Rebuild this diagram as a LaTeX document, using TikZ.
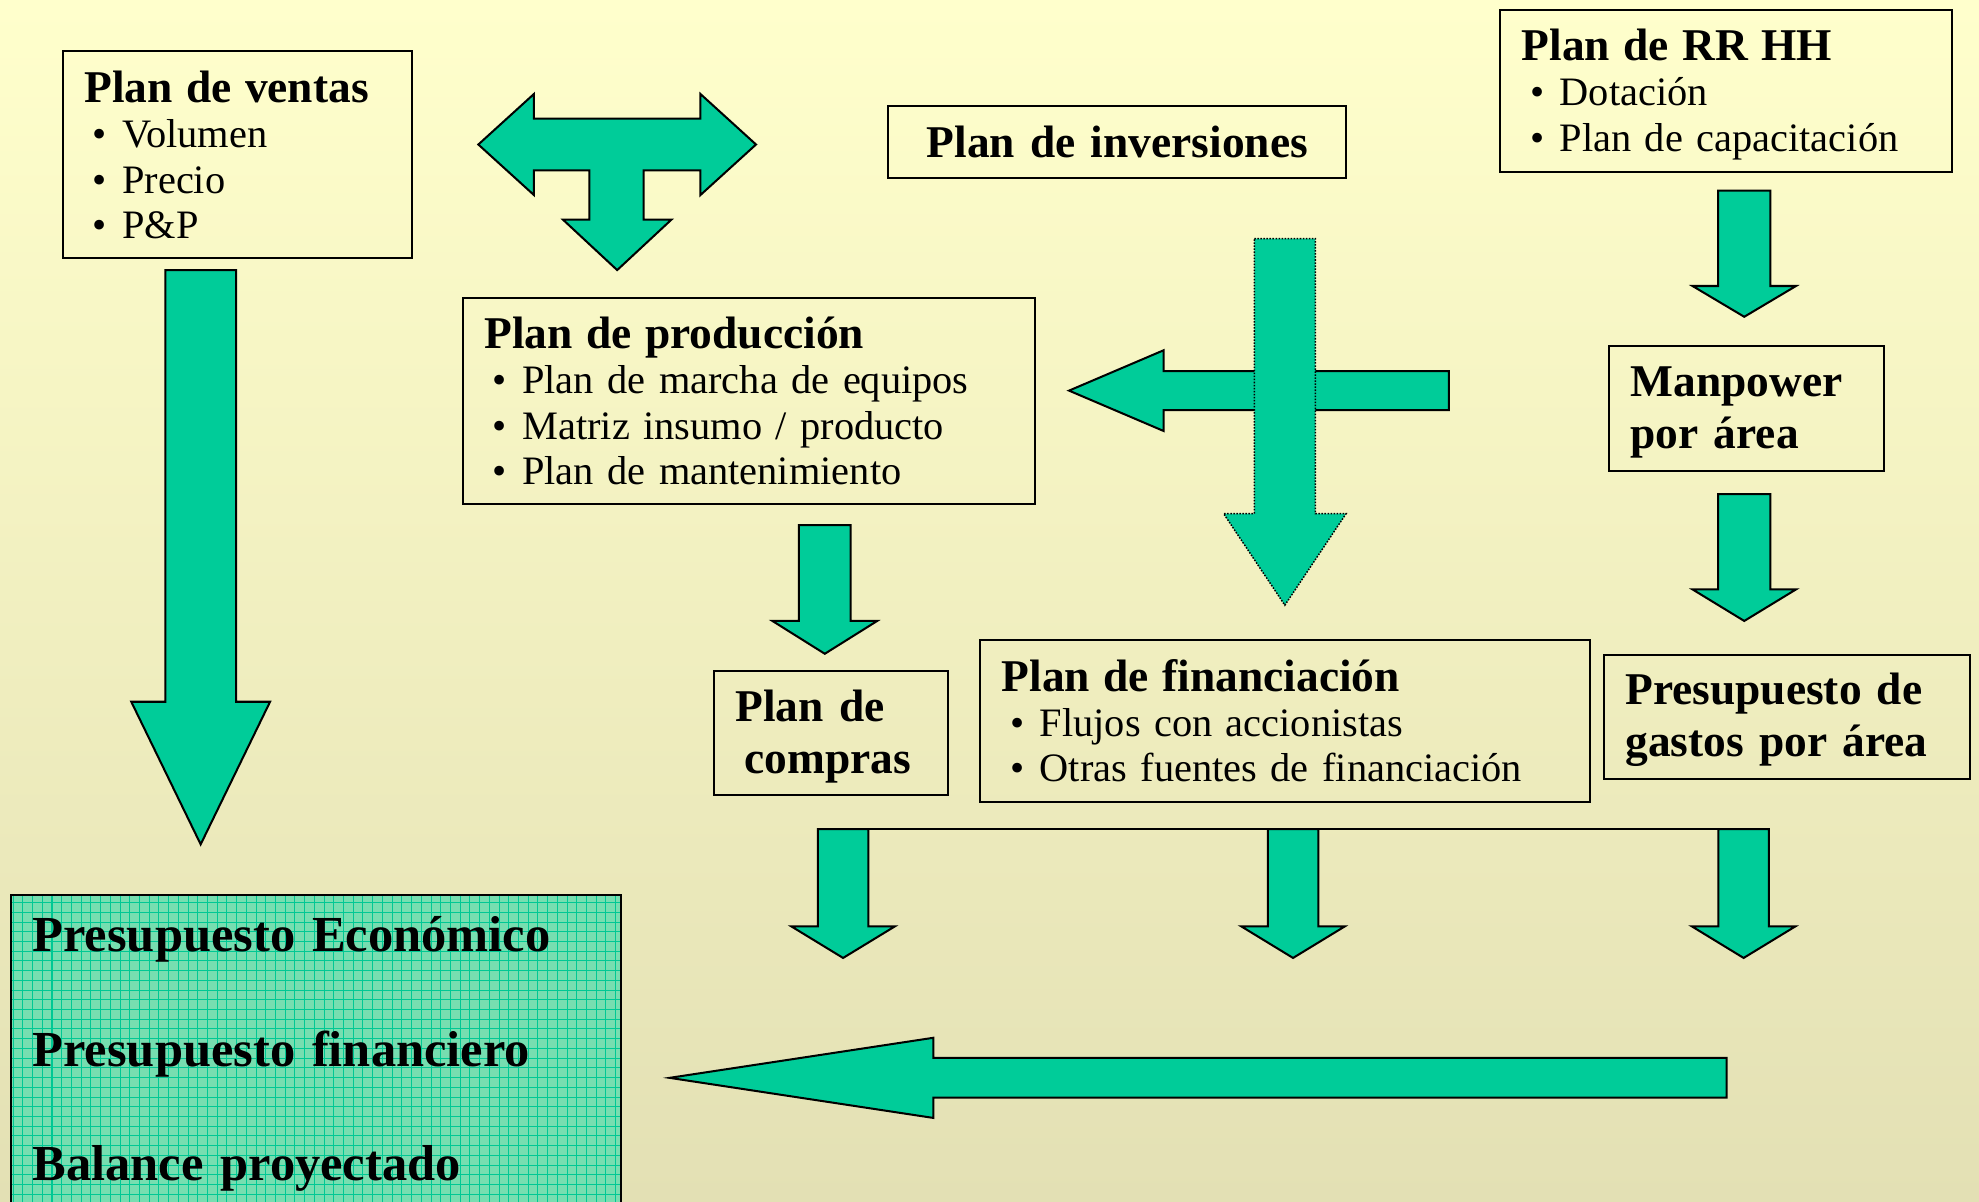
\documentclass[tikz,border=0pt]{standalone}
\usepackage{fontspec}
\setmainfont{Liberation Serif}
\usetikzlibrary{positioning}
\definecolor{verdeflecha}{RGB}{0,204,153}
\definecolor{verdecaja}{RGB}{118,222,176}
\definecolor{verdereja}{RGB}{0,200,148}
\definecolor{fondoarriba}{RGB}{255,255,204}
\definecolor{fondoabajo}{RGB}{227,224,180}
\tikzset{
    caja/.style={draw=black, line width=0.8pt, anchor=north west, align=left, inner xsep=8.5pt, inner ysep=0pt, font=\fontsize{16}{18}\selectfont},
    cajanegrita/.style={caja, font=\bfseries\fontsize{18}{20.5}\selectfont},
    resultado/.style={caja, fill=verdecaja, font=\bfseries\fontsize{20}{22.75}\selectfont,
        path picture={\draw[verdereja, line width=0.4pt] (path picture bounding box.south west) grid[step=3.85pt] (path picture bounding box.north east);}},
    flecha/.style={draw=black, line width=0.8pt, fill=verdeflecha},
    flechapunteada/.style={flecha, line width=0.6pt, dash pattern=on 0.6pt off 0.6pt}
}
\newcommand{\titulo}[1]{{\bfseries\fontsize{18}{18}\selectfont #1}\\}
\newcommand{\itm}[1]{\hspace*{3.3pt}\makebox[11.7pt][l]{\textbullet}#1}
\newcommand{\alto}{\rule{0pt}{15pt}}
% flecha hacia abajo: centro x, arriba, inicio punta, punta, medio ancho, medio ancho punta
\newcommand{\flechaabajo}[7][flecha]{%
    \draw[#1] ({#2-#6},#3) -- ({#2+#6},#3) -- ({#2+#6},#4) -- ({#2+#7},#4) -- (#2,#5)
        -- ({#2-#7},#4) -- ({#2-#6},#4) -- cycle;}
% flecha hacia la izquierda: punta x, y, base punta, fin, medio ancho, medio ancho punta
\newcommand{\flechaizq}[6]{%
    \draw[flecha] (#1,#2) -- (#3,{#2-#6}) -- (#3,{#2-#5}) -- (#4,{#2-#5}) -- (#4,{#2+#5})
        -- (#3,{#2+#5}) -- (#3,{#2+#6}) -- cycle;}

\begin{document}
\begin{tikzpicture}[x=0.5pt, y=-0.5pt]
    \clip (0,0) rectangle (1568,952);
    \fill[top color=fondoarriba, bottom color=fondoabajo] (0,0) rectangle (1568,952);

    % planes
    \node [caja, text width=121.5pt, minimum height=82pt] (ventas) at (49,40)
        {\titulo{Plan de ventas}\itm{Volumen}\\\itm{Precio}\\\itm{P\&P}};
    \node [cajanegrita, align=center, text width=164.5pt, minimum height=28.5pt] (inversiones) at (703,83)
        {Plan de inversiones};
    \node [caja, text width=162pt, minimum height=64.25pt] (rrhh) at (1188,7)
        {\titulo{\alto Plan de RR HH}\itm{Dotación}\\\itm{Plan de capacitación}};
    \node [caja, text width=209.5pt, minimum height=81.85pt] (produccion) at (366,235)
        {\titulo{Plan de producción}\itm{Plan de marcha de equipos}\\\itm{Matriz insumo / producto}\\\itm{Plan de mantenimiento}};
    \node [cajanegrita, text width=92pt, minimum height=49.5pt] (manpower) at (1274,273)
        {\alto Manpower\\por área};
    \node [cajanegrita, text width=75.5pt, minimum height=49pt] (compras) at (565,531)
        {\alto Plan de\\\hspace*{3.5pt}compras};
    \node [caja, text width=224.5pt, minimum height=64.25pt] (financiacion) at (776,506)
        {\titulo{Plan de financiación}\itm{Flujos con accionistas}\\\itm{Otras fuentes de financiación}};
    \node [cajanegrita, text width=128pt, minimum height=49.25pt] (gastos) at (1270,518)
        {\alto Presupuesto de\\gastos por área};
    \node [resultado, text width=224.5pt, minimum height=126.3pt] (presupuestos) at (8,708)
        {Presupuesto Económico\\[22.75pt]Presupuesto financiero\\[22.75pt]Balance proyectado};

    % flecha en T
    \draw [flecha] (379,114.5) -- (423,74.5) -- (423,94) -- (555,94) -- (555,74.5) -- (599,114.5)
        -- (555,154.5) -- (555,135) -- (510,135) -- (510,174) -- (532,174) -- (489,214)
        -- (446,174) -- (467,174) -- (467,135) -- (423,135) -- (423,154.5) -- cycle;

    % flechas
    \flechaabajo{159}{214}{556}{669}{28}{55}
    \flechaabajo{1382}{151}{226.6}{251}{20.75}{41}
    \flechaabajo{1382}{391.5}{467}{492}{20.75}{41}
    \flechaabajo{653.5}{416}{492}{518}{20.5}{41.5}
    \flechaizq{847}{309.5}{922}{1148}{15.5}{32}
    \flechaabajo[flechapunteada]{1018}{189}{407}{479.5}{24.2}{48.5}
    \foreach \cx in {668,1024.5,1381.5}
        \flechaabajo{\cx}{657}{734}{759}{20}{41};
    \coordinate (lineaini) at (648,657);
    \coordinate (lineafin) at (1402,657);
    \draw [line width=0.8pt] (lineaini) -- (lineafin);
    \flechaizq{530.5}{854}{739.5}{1368}{15.75}{31.75}
\end{tikzpicture}
\end{document}
